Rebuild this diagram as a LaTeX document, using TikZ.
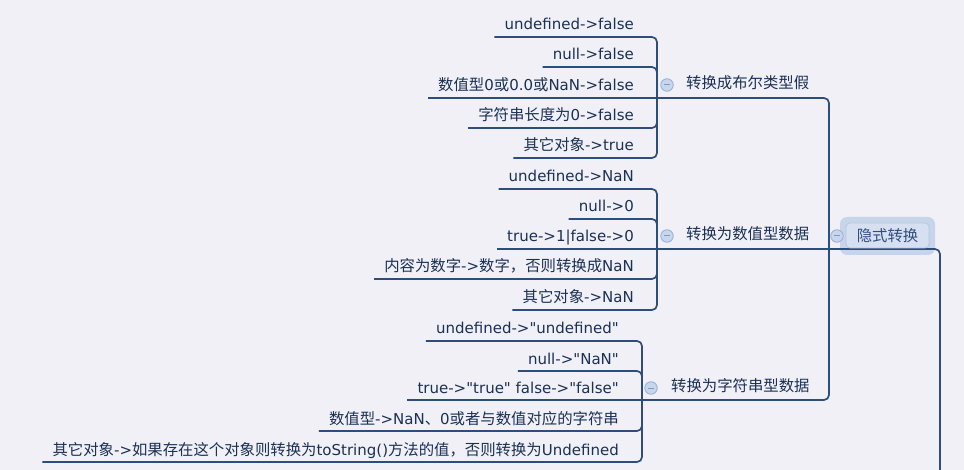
\documentclass[tikz,border=0pt]{standalone}
\usepackage{fontspec}
\setmainfont{DejaVu Sans}
\newfontfamily\enfont{DejaVu Sans}
\newfontfamily\zhfont[Scale=1.025]{Noto Sans CJK SC}
\newcommand\zh[1]{{\zhfont #1}}
\definecolor{bg}{RGB}{240,240,246}
\definecolor{ln}{RGB}{45,78,122}
\definecolor{tx}{RGB}{26,48,84}
\definecolor{mfill}{RGB}{200,214,236}
\definecolor{mdraw}{RGB}{150,176,214}
\definecolor{glow}{RGB}{190,206,232}
\definecolor{rootfill}{RGB}{214,224,240}
\definecolor{rootdraw}{RGB}{180,198,228}
\definecolor{roottx}{RGB}{48,78,128}
\tikzset{
  conn/.style={draw=ln, line width=1.7pt, rounded corners=5pt},
  leaf/.style={anchor=base east, text=tx, font=\fontsize{15}{18}\selectfont\enfont, inner xsep=10pt, inner ysep=0pt},
  parent/.style={anchor=base west, text=tx, font=\fontsize{15}{18}\selectfont\zhfont, inner sep=0pt},
  minus/.style={circle, minimum size=12.5pt, inner sep=0pt, fill=mfill, draw=mdraw, line width=0.8pt,
    path picture={\draw[mdraw!80!ln, line width=1pt] ([xshift=-3pt]path picture bounding box.center) -- ([xshift=3pt]path picture bounding box.center);}},
  rootglow/.style={rounded corners=7pt, fill=glow, opacity=0.8, minimum width=95pt, minimum height=38pt, inner sep=0pt},
  rootbox/.style={rounded corners=4pt, fill=rootfill, draw=rootdraw, line width=0.8pt, minimum width=83pt, minimum height=25pt, inner sep=0pt, text=roottx, font=\fontsize{15}{18}\selectfont\zhfont}
}
% leaf: name, bar x, line y, parent y, text
\newcommand\leafnode[5]{%
  \node[leaf] (#1) at (#2-13,#3-7) {#5};
  \coordinate (#1y) at (0,#3);
  \draw[conn] (#1.west |- #1y) -- (#2,#3) -- (#2,#4);}
\newcommand\midleaf[4]{%
  \node[leaf] (#1) at (#2-13,#3-7) {#4};
  \coordinate (#1y) at (0,#3);
  \coordinate (#1b) at (#2,#3);
  \draw[conn] (#1.west |- #1y) -- (#1b);}
\begin{document}
\begin{tikzpicture}[x=1pt,y=-1pt]
\fill[bg] (0,0) rectangle (964,470);
\useasboundingbox (0,0) rectangle (964,470);

% group 1
\leafnode{a1}{657}{37}{98}{undefined->false}
\leafnode{a2}{657}{67}{98}{null->false}
\midleaf{a3}{657}{98}{\zh{数值型}0\zh{或}0.0\zh{或}NaN->false}
\leafnode{a4}{657}{128}{98}{\zh{字符串长度为}0->false}
\leafnode{a5}{657}{158}{98}{\zh{其它对象}->true}
\node[parent] (p1) at (686,89) {转换成布尔类型假};
\node[minus] (m1) at (667,85) {};

% group 2
\leafnode{b1}{657}{189}{249}{undefined->NaN}
\leafnode{b2}{657}{219}{249}{null->0}
\midleaf{b3}{657}{249}{true->1|false->0}
\leafnode{b4}{657}{279}{249}{\zh{内容为数字}->\zh{数字，否则转换成}NaN}
\leafnode{b5}{657}{310}{249}{\zh{其它对象}->NaN}
\node[parent] (p2) at (686,240) {转换为数值型数据};
\node[minus] (m2) at (667,236) {};

% group 3
\leafnode{c1}{642}{341}{400}{undefined->"undefined"}
\leafnode{c2}{642}{371}{400}{null->"NaN"}
\midleaf{c3}{642}{400}{true->"true" false->"false"}
\leafnode{c4}{642}{431}{400}{\zh{数值型}->NaN\zh{、}0\zh{或者与数值对应的字符串}}
\leafnode{c5}{642}{462}{400}{\zh{其它对象}->\zh{如果存在这个对象则转换为}toString()\zh{方法的值，否则转换为}Undefined}
\node[parent] (p3) at (671,391) {转换为字符串型数据};
\node[minus] (m3) at (651,388) {};

% root
\node[rootglow] (rg) at (887.5,236) {};
\coordinate (rj) at (829,249);
\coordinate (rend) at (940,470);
\draw[conn] (a3b) -- (829,98) -- (rj);
\draw[conn] (b3b) -- (rj);
\draw[conn] (c3b) -- (829,400) -- (rj);
\draw[conn] (rj) -- (940,249) -- (rend);
\node[rootbox] (root) at (887.5,235.5) {隐式转换};
\node[minus] (m0) at (837,236) {};
\end{tikzpicture}
\end{document}
